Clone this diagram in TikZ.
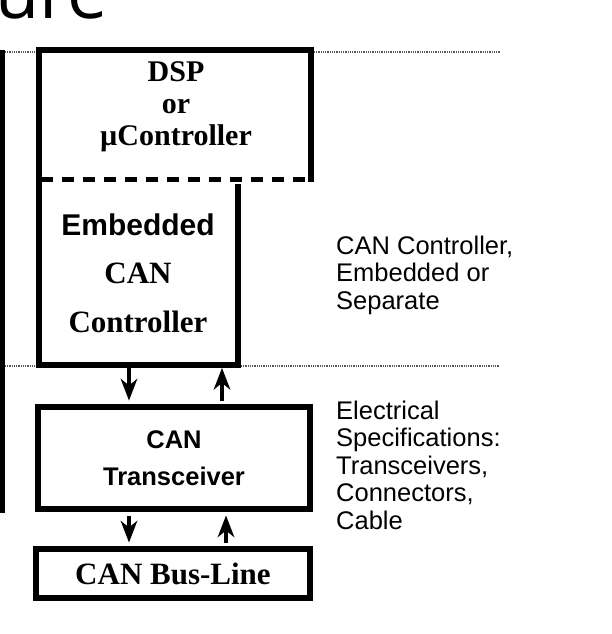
\documentclass[tikz,border=0pt]{standalone}
\usepackage{fontspec}
\setmainfont{Liberation Serif}
\setsansfont{Liberation Sans}
\newfontfamily\titlefont{Open Sans}
\usetikzlibrary{arrows.meta}
\begin{document}
\begin{tikzpicture}[x=1pt,y=-1pt,
  thickln/.style={line width=5.5pt,line join=miter,line cap=rect},
  boxthick/.style={draw,line width=6.5pt,rectangle,inner sep=0pt},
  area/.style={rectangle,inner sep=0pt},
  dotln/.style={line width=1.6pt,draw=black!65,dash pattern=on 1pt off 0.8pt},
  arr/.style={line width=3.6pt,shorten >=10pt},
  notes/.style={font=\sffamily\fontsize{25.5}{27.5}\selectfont,align=left,anchor=west,inner sep=0pt}
]
\useasboundingbox (0,0) rectangle (612,634);
\fill[white] (0,0) rectangle (612,634);

% partial title
\node[anchor=base west,inner sep=0pt,font=\titlefont\fontsize{72}{72}\selectfont] (title) at (-5,19) {ure};

% dotted separators
\coordinate (d1a) at (5,52);  \coordinate (d1b) at (36,52);
\coordinate (d1c) at (314,52); \coordinate (d1d) at (500,52);
\coordinate (d2a) at (5,366);  \coordinate (d2b) at (36,366);
\coordinate (d2c) at (241,366); \coordinate (d2d) at (500,366);
\draw[dotln] (d1a) -- (d1b) (d1c) -- (d1d);
\draw[dotln] (d2a) -- (d2b) (d2c) -- (d2d);

% left cut-off box edge
\coordinate (lt) at (2,50); \coordinate (lb) at (2,513);
\draw[line width=5pt] (lt) -- (lb);

% DSP / embedded controller areas
\node[area,minimum width=272pt,minimum height=129pt] (dsp) at (175,114.5) {};
\node[area,minimum width=199pt,minimum height=186pt] (emb) at (138.5,272) {};

\draw[thickln] (dsp.south east) -- (dsp.north east) -- (dsp.north west)
   -- (emb.south west) -- (emb.south east) -- ([yshift=-8pt]emb.north east);
\draw[line width=5pt,dash pattern=on 12pt off 9pt] ([xshift=2pt]dsp.south west) -- (dsp.south east);

\node[align=center,font=\rmfamily\bfseries\fontsize{30}{32}\selectfont] (dsptext) at (176,107) {DSP\\or\\µController};
\node[align=center,font=\rmfamily\bfseries\fontsize{31}{48.5}\selectfont] (embtext) at (138,273)
  {{\sffamily\fontsize{30}{48.5}\selectfont Embedded}\\CAN\\Controller};

% transceiver and bus line
\node[boxthick,minimum width=272pt,minimum height=102pt,align=center,
  font=\sffamily\bfseries\fontsize{25.5}{37}\selectfont] (trx) at (174,458) {CAN\\Transceiver};
\node[boxthick,minimum width=274pt,minimum height=49pt,
  font=\rmfamily\bfseries\fontsize{31}{30}\selectfont] (bus) at (173,573.5) {\raisebox{-2pt}{CAN Bus-Line}};

% arrows
\coordinate (xa) at (129,0); \coordinate (xb) at (222,0); \coordinate (xc) at (226,0);
\coordinate (a1s) at ([yshift=-2.75pt]emb.south -| xa); \coordinate (a1t) at ([yshift=3.25pt]trx.north -| xa);
\coordinate (a2s) at ([yshift=3.25pt]trx.north -| xb); \coordinate (a2t) at ([yshift=-2.75pt]emb.south -| xb);
\coordinate (a3s) at ([yshift=-3.25pt]trx.south -| xa); \coordinate (a3t) at ([yshift=3.25pt]bus.north -| xa);
\coordinate (a4s) at ([yshift=3.25pt]bus.north -| xc); \coordinate (a4t) at ([yshift=-3.25pt]trx.south -| xc);
\draw[arr] (a1s) -- (a1t);
\draw[arr] (a2s) -- (a2t);
\draw[arr] (a3s) -- (a3t);
\draw[arr] (a4s) -- (a4t);
% arrowheads
\fill (a1t) -- ++(-8.5,-22) -- ++(8.5,7) -- ++(8.5,-7) -- cycle;
\fill (a3t) -- ++(-8.5,-22) -- ++(8.5,7) -- ++(8.5,-7) -- cycle;
\fill (a2t) -- ++(-8.5,22) -- ++(8.5,-7) -- ++(8.5,7) -- cycle;
\fill (a4t) -- ++(-8.5,22) -- ++(8.5,-7) -- ++(8.5,7) -- cycle;

% notes
\node[notes] (note1) at (336,275) {CAN Controller,\\Embedded or\\Separate};
\node[notes] (note2) at (336,465) {Electrical\\Specifications:\\Transceivers,\\Connectors,\\Cable};
\end{tikzpicture}
\end{document}
